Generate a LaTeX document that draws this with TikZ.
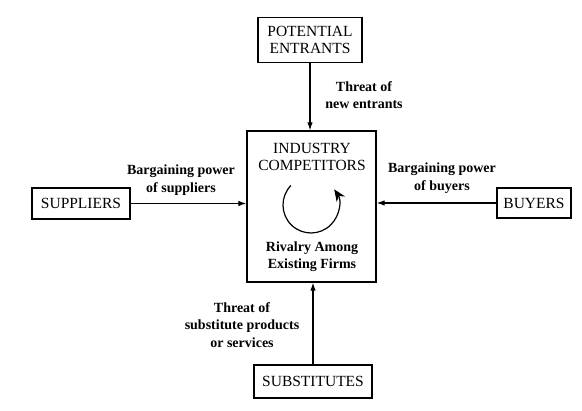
\documentclass[tikz,border=0pt]{standalone}
\usepackage{fontspec}
\setmainfont{Liberation Serif}
\usetikzlibrary{positioning,arrows.meta}

\begin{document}
\begin{tikzpicture}[x=1pt, y=1pt,
  boxv/.style={draw, line width=1.3pt, align=center, font=\fontsize{15.5}{17}\selectfont, inner sep=0pt},
  capt/.style={align=center, font=\fontsize{15.5}{17}\selectfont, inner sep=0pt},
  lbl/.style={align=center, font=\bfseries\fontsize{14}{17.5}\selectfont, inner sep=1pt},
  forceedge/.style={draw=black, line width=1.1pt, -{Latex[length=8pt,width=5.5pt]}},
  rivalarc/.style={draw=black, line width=1.2pt, -{Stealth[length=12pt,width=10pt]}}
]
\useasboundingbox (0,0) rectangle (582,411);

\node[boxv, minimum width=104, minimum height=45] (ent) at (310,371) {POTENTIAL\\ENTRANTS};
\node[boxv, minimum width=129, minimum height=151] (comp) at (311.5,204.5) {};
\node[boxv, minimum width=98, minimum height=31] (sup) at (81,207.5) {SUPPLIERS};
\node[boxv, minimum width=74, minimum height=30] (buy) at (534,208) {BUYERS};
\node[boxv, minimum width=118, minimum height=33] (subs) at (313,29.5) {SUBSTITUTES};

\node[capt] (comptitle) at (312,254.5) {INDUSTRY\\COMPETITORS};
\node[lbl] (rivalry) at (312,154.5) {Rivalry Among\\Existing Firms};
\draw[rivalarc] (311,206) ++(136:28) arc[start angle=136, end angle=394, radius=28];

\draw[forceedge] (ent.south) -- (ent.south |- comp.north);
\draw[forceedge] (sup.east) -- (sup.east -| comp.west);
\draw[forceedge] (buy.west) -- (buy.west -| comp.east);
\draw[forceedge] (subs.north) -- (subs.north |- comp.south);

\node[lbl] (entlbl) at (364,316) {Threat of\\new entrants};
\node[lbl] (suplbl) at (181,231) {Bargaining power\\of suppliers};
\node[lbl] (buylbl) at (442,233) {Bargaining power\\of buyers};
\node[lbl] (subslbl) at (242,86) {Threat of\\substitute products\\or services};

\end{tikzpicture}
\end{document}
